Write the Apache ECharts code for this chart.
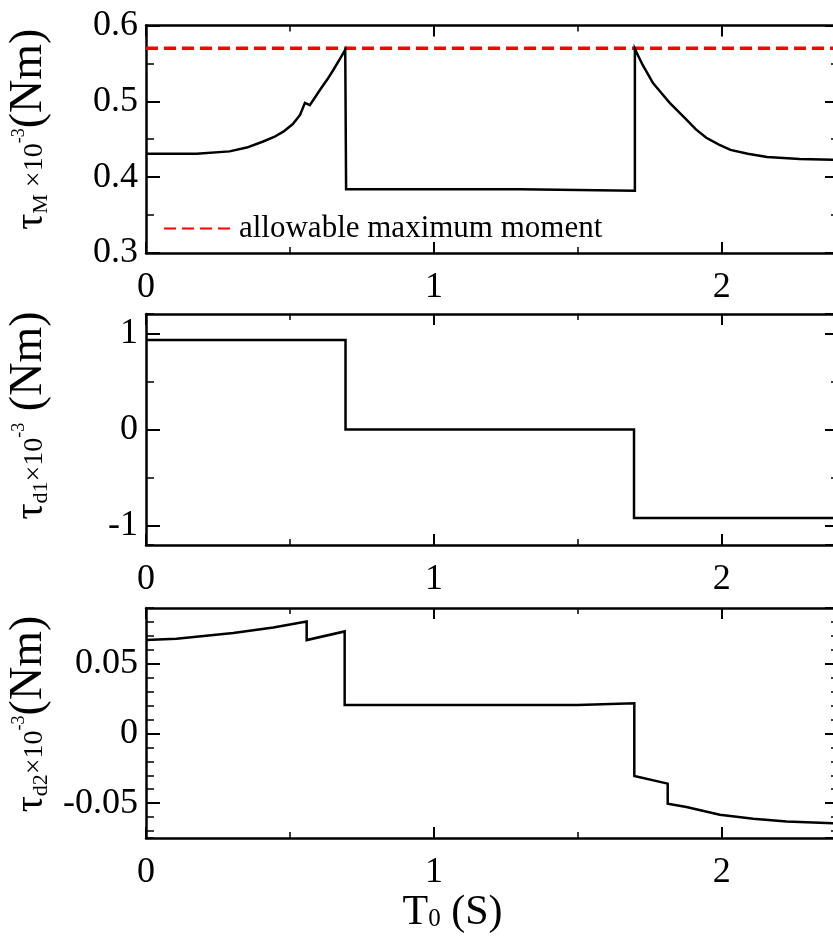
<!DOCTYPE html>
<html>
<head>
<meta charset="utf-8">
<script src="https://cdn.jsdelivr.net/npm/echarts@6/dist/echarts.min.js"></script>
<style>html,body{margin:0;padding:0;background:#fff}#c{width:833px;height:943px}</style>
</head>
<body>
<div id="c"></div>
<script>
// ---- data ----
const tauM = [[0,0.431],[0.176,0.431],[0.29,0.434],[0.35,0.439],[0.407,0.447],[0.445,0.453],[0.477,0.460],[0.51,0.470],[0.535,0.482],[0.552,0.498],[0.569,0.495],[0.604,0.515],[0.63,0.529],[0.65,0.541],[0.672,0.555],[0.692,0.568],[0.695,0.384],[1.30,0.384],[1.30,0.382],[1.698,0.382],[1.698,0.569],[1.725,0.548],[1.761,0.524],[1.79,0.511],[1.819,0.498],[1.877,0.476],[1.91,0.463],[1.946,0.452],[1.99,0.443],[2.03,0.436],[2.09,0.431],[2.157,0.4266],[2.27,0.424],[2.4,0.423]];
const allowMax = [[0,0.57],[2.4,0.57]];
const tauD1 = [[0,0.93],[0.693,0.93],[0.693,0],[1.695,0],[1.695,-0.92],[2.4,-0.92]];
const tauD2 = [[0,0.0671],[0.106,0.0679],[0.303,0.072],[0.442,0.076],[0.558,0.0803],[0.558,0.067],[0.69,0.0732],[0.69,0.0204],[1.50,0.0204],[1.50,0.0216],[1.696,0.0216],[1.696,-0.0305],[1.812,-0.036],[1.812,-0.0504],[1.877,-0.0528],[1.993,-0.0583],[2.109,-0.0612],[2.225,-0.0631],[2.4,-0.0645]];
const xRange = [0, 2.4];
const yRanges = [[0.3, 0.6], [-1.2, 1.2], [-0.075, 0.09]];
const yMajor = [0.1, 1, 0.05];
const yMinor = [0.05, 0.5, 0.01];
const legendName = 'allowable maximum moment';
const yNames = [
  '{t|τ}{s|M}{x| ×10}{p|-3}{u|(Nm)}',
  '{t|τ}{s|d1}{x|×10}{p|-3}{u| (Nm)}',
  '{t|τ}{s|d2}{x|×10}{p|-3}{u|(Nm)}'
];
const xName = '{u|T}{s|0}{u| (S)}';

// ---- layout ----
const F = "'Liberation Serif','Times New Roman',serif";
const grids = [
  {left:146, right:-4, top:25.5, height:227.5},
  {left:146, right:-4, top:314, height:231},
  {left:146, right:-4, top:608, height:230}
];
const nameShift = [20, 28, 18];
const lineCol = '#000';
const rich = {
  t:{fontSize:40, fontFamily:F, color:'#000', lineHeight:40, verticalAlign:'middle', padding:[4,0,0,0]},
  s:{fontSize:22, fontFamily:F, color:'#000', lineHeight:22, verticalAlign:'middle', padding:[25,0,0,0]},
  x:{fontSize:28, fontFamily:F, color:'#000', lineHeight:28, verticalAlign:'middle', padding:[11,0,0,0]},
  p:{fontSize:18, fontFamily:F, color:'#000', lineHeight:18, verticalAlign:'middle', padding:[0,0,20,0]},
  u:{fontSize:46, fontFamily:F, color:'#000', lineHeight:46, verticalAlign:'middle'}
};
const xRich = {
  u:{fontSize:42, fontFamily:F, color:'#000', lineHeight:42, verticalAlign:'middle'},
  s:{fontSize:25, fontFamily:F, color:'#000', lineHeight:25, verticalAlign:'middle', padding:[12,0,0,0]}
};

const xAxes = [], yAxes = [];
grids.forEach((g, i) => {
  const base = {type:'value', gridIndex:i, min:xRange[0], max:xRange[1], splitLine:{show:false}};
  xAxes.push(Object.assign({}, base, {
    position:'bottom', interval:1,
    axisLine:{show:true, onZero:false, lineStyle:{color:lineCol, width:2.5}},
    axisTick:{show:true, inside:true, length:11, lineStyle:{color:lineCol, width:2}},
    axisLabel:{show:true, color:'#000', fontFamily:F, fontSize:36, margin:17, showMaxLabel:false},
    name: i === 2 ? xName : '', nameLocation:'middle', nameGap:54, nameMoveOverlap:false,
    nameTextStyle:{rich:xRich, padding:[0,78,0,0]}
  }));
  xAxes.push(Object.assign({}, base, {
    position:'bottom', minInterval:0.5, maxInterval:0.5,
    axisLine:{show:false, onZero:false}, axisTick:{show:true, inside:true, length:6, lineStyle:{color:lineCol, width:1.5}},
    axisLabel:{show:false}
  }));
  xAxes.push(Object.assign({}, base, {
    position:'top', interval:1,
    axisLine:{show:true, onZero:false, lineStyle:{color:lineCol, width:2.5}},
    axisTick:{show:true, inside:true, length:11, lineStyle:{color:lineCol, width:2}},
    axisLabel:{show:false}
  }));
  xAxes.push(Object.assign({}, base, {
    position:'top', minInterval:0.5, maxInterval:0.5,
    axisLine:{show:false, onZero:false}, axisTick:{show:true, inside:true, length:6, lineStyle:{color:lineCol, width:1.5}},
    axisLabel:{show:false}
  }));

  const yb = {type:'value', gridIndex:i, min:yRanges[i][0], max:yRanges[i][1], splitLine:{show:false}};
  const exact = i === 0;
  yAxes.push(Object.assign({}, yb, exact ? {interval:yMajor[i]} : {minInterval:yMajor[i], maxInterval:yMajor[i]}, {
    position:'left',
    axisLine:{show:true, onZero:false, lineStyle:{color:lineCol, width:2.5}},
    axisTick:{show:true, inside:true, length:14, lineStyle:{color:lineCol, width:2}},
    axisLabel:{show:true, color:'#000', fontFamily:F, fontSize:36, margin:8, showMinLabel:exact, showMaxLabel:exact},
    name:yNames[i], nameLocation:'middle', nameRotate:90, nameGap:94, nameMoveOverlap:false,
    nameTextStyle:{rich:rich, padding:[0,0,0,nameShift[i]]}
  }));
  yAxes.push(Object.assign({}, yb, {
    position:'left', minInterval:yMinor[i], maxInterval:yMinor[i],
    axisLine:{show:false, onZero:false}, axisTick:{show:true, inside:true, length:8, lineStyle:{color:lineCol, width:1.5}},
    axisLabel:{show:false}
  }));
  yAxes.push(Object.assign({}, yb, exact ? {interval:yMajor[i]} : {minInterval:yMajor[i], maxInterval:yMajor[i]}, {
    position:'right',
    axisLine:{show:true, onZero:false, lineStyle:{color:lineCol, width:2.5}},
    axisTick:{show:true, inside:true, length:12, lineStyle:{color:lineCol, width:2}},
    axisLabel:{show:false}
  }));
  yAxes.push(Object.assign({}, yb, {
    position:'right', minInterval:yMinor[i], maxInterval:yMinor[i],
    axisLine:{show:false, onZero:false}, axisTick:{show:true, inside:true, length:6, lineStyle:{color:lineCol, width:1.5}},
    axisLabel:{show:false}
  }));
});

const blackLine = (data, gi) => ({
  type:'line', data:data, xAxisIndex:gi*4, yAxisIndex:gi*4, symbol:'none', silent:true,
  lineStyle:{color:'#000', width:2.5, join:'miter'}, itemStyle:{color:'#000'}, z:3
});

const option = {
  animation:false,
  backgroundColor:'#fff',
  grid: grids.map(g => Object.assign({containLabel:false, outerBoundsMode:'none'}, g)),
  xAxis: xAxes,
  yAxis: yAxes,
  legend:{
    data:[legendName], left:158, top:208, itemWidth:68, itemHeight:14, itemGap:0,
    itemStyle:{opacity:0},
    textStyle:{fontFamily:F, fontSize:31, color:'#000', padding:[0,0,0,2]},
    selectedMode:false
  },
  series:[
    blackLine(tauM, 0),
    {type:'line', name:legendName, data:allowMax, xAxisIndex:0, yAxisIndex:0, symbol:'none', silent:true,
     lineStyle:{color:'#ff0000', width:3.5, type:[12,6]}, itemStyle:{color:'#ff0000'}, z:2},
    blackLine(tauD1, 1),
    blackLine(tauD2, 2)
  ]
};
const chart = echarts.init(document.getElementById('c'), null, {renderer:'canvas'});
chart.setOption(option);
</script>
</body>
</html>
